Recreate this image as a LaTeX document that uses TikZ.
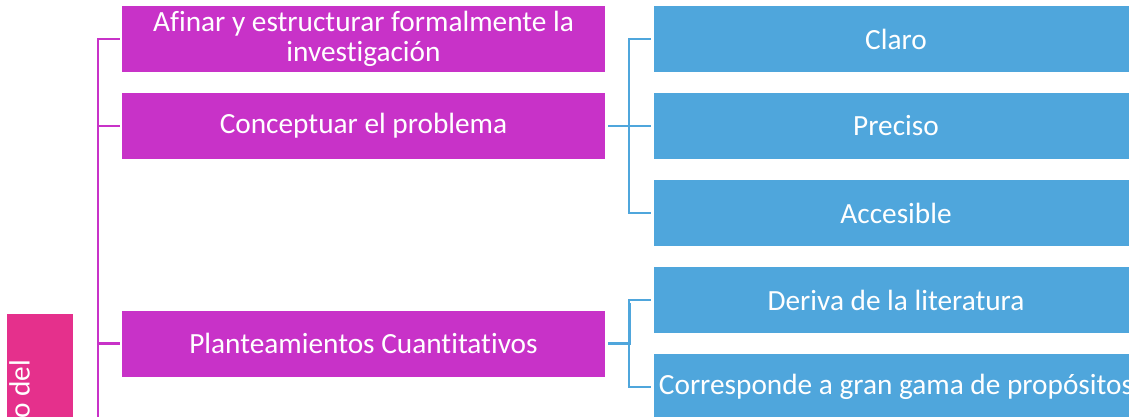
\documentclass[tikz,border=0pt]{standalone}
\usepackage{fontspec}
\setmainfont{Carlito}[Ligatures=NoCommon]
\usetikzlibrary{calc}
\definecolor{magbox}{RGB}{200,50,200}
\definecolor{bluebox}{RGB}{79,166,220}
\definecolor{pinkbox}{RGB}{229,48,140}
\tikzset{
  mbox/.style={fill=magbox, draw=none, minimum width=483pt, minimum height=66pt, inner sep=0pt, text=white, font=\fontsize{29.3}{30}\selectfont, align=center},
  bbox/.style={fill=bluebox, draw=none, minimum width=484pt, minimum height=66pt, inner sep=0pt, text=white, font=\fontsize{29.3}{30}\selectfont, align=center},
  mline/.style={draw=magbox, line width=2.2pt},
  bline/.style={draw=bluebox, line width=2.2pt, shorten <=3pt, shorten >=3pt},
}
\begin{document}
\begin{tikzpicture}[x=1pt,y=-1pt]
\useasboundingbox (0,0) rectangle (1129,417);
\clip (0,0) rectangle (1129,417);
% left pink box
\node[fill=pinkbox, minimum width=66pt, minimum height=140pt, inner sep=0pt, anchor=north west] (root) at (7,314) {};
\node[rotate=90, anchor=south east, inner sep=0pt, text=white, font=\fontsize{29.3}{30}\selectfont] (roottext) at (30,360) {o del};
% magenta boxes
\node[mbox] (m1) at (363.5,39) {Afinar y estructurar formalmente la\\investigación};
\node[mbox] (m2) at (363.5,126) {Conceptuar el problema};
\node[mbox] (m3) at (363.5,343.5) {Planteamientos Cuantitativos};
% blue boxes
\node[bbox] (b1) at (896,39) {Claro};
\node[bbox] (b2) at (896,126) {Preciso};
\node[bbox] (b3) at (896,213) {Accesible};
\node[bbox] (b4) at (896,300) {Deriva de la literatura};
\node[bbox] (b5) at (896,387) {Corresponde a gran gama de propósitos};
% magenta bracket
\coordinate (mbot) at (98,430);
\draw[mline] ([xshift=-2pt]m1.west) -| (mbot);
\draw[mline] ([xshift=-2pt]m2.west) -- (m2.west -| mbot);
\draw[mline] ([xshift=-2pt]m3.west) -- (m3.west -| mbot);
% blue brackets
\draw[bline] (m2.east) -- (b2.west);
\draw[bline] (b1.west) -- ++(-25,0) |- (b3.west);
\draw[bline] (m3.east) -- ($(m3.east)!0.5!(b4.west |- m3.east)$) coordinate (bj) -- (b4.west -| bj);
\draw[bline] (m3.east) -- (m3.east -| bj);
\draw[bline] (b4.west) -- ++(-25,0) |- (b5.west);
\end{tikzpicture}
\end{document}
